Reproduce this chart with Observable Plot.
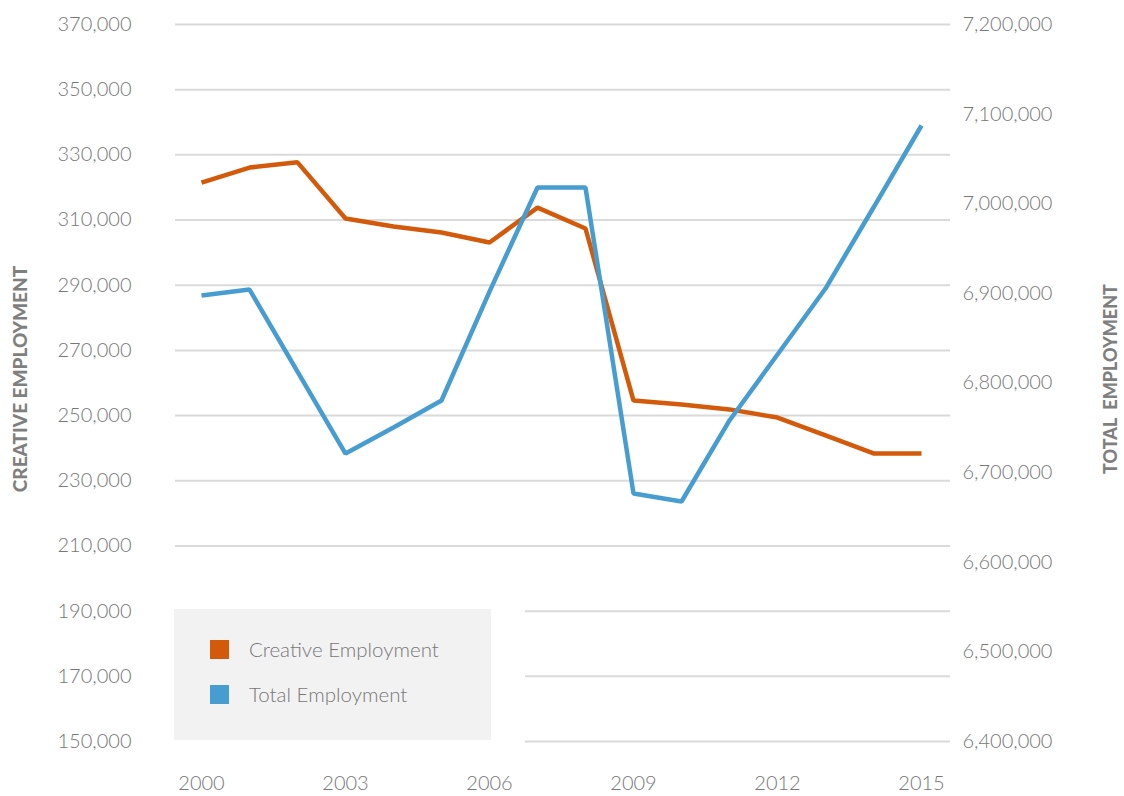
<!DOCTYPE html>
<html>
<head>
<meta charset="utf-8">
<script src="https://cdn.jsdelivr.net/npm/d3@7"></script>
<script src="https://cdn.jsdelivr.net/npm/@observablehq/plot@0.6"></script>
<style>
  html, body { margin: 0; padding: 0; background: #ffffff; }
  #wrap { position: relative; width: 1124px; height: 796px; font-family: Lato, "Open Sans", sans-serif; }
  #mask { position: absolute; left: 170px; top: 598px; width: 355px; height: 152px; background: #ffffff; }
  #legend { position: absolute; left: 174px; top: 609px; width: 317px; height: 131px; background: #f2f2f2; }
  .item { position: absolute; left: 36px; display: flex; align-items: center; font-size: 20.5px; font-weight: 300; color: #777777; }
  .sw { width: 19px; height: 19px; margin-right: 20px; }
</style>
</head>
<body>
<div id="wrap"></div>
<script>
const years = [2000, 2001, 2002, 2003, 2004, 2005, 2006, 2007, 2008, 2009, 2010, 2011, 2012, 2013, 2014, 2015];
const creative = [321500, 326100, 327700, 310500, 308000, 306200, 303100, 313800, 307400, 254600, 253400, 251900, 249400, 243900, 238400, 238400];
const total = [6897600, 6904300, 6812800, 6721300, 6750300, 6780500, 6902000, 7018100, 7018100, 6676700, 6667800, 6758200, 6831800, 6905400, 6995800, 7087300];
const leftTicks = [150000, 170000, 190000, 210000, 230000, 250000, 270000, 290000, 310000, 330000, 350000, 370000];
const rightTicks = [6400000, 6500000, 6600000, 6700000, 6800000, 6900000, 7000000, 7100000, 7200000];
const xTicks = [2000, 2003, 2006, 2009, 2012, 2015];
const seriesNames = ["Creative Employment", "Total Employment"];
const seriesColors = ["#d35a0a", "#479dd0"];

const leftDomain = [150000, 370000];
const rightDomain = [6400000, 7200000];
const toLeft = d3.scaleLinear().domain(rightDomain).range(leftDomain);
const fmt = d3.format(",");

const creativeData = years.map((y, i) => ({year: y, value: creative[i]}));
const totalData = years.map((y, i) => ({year: y, value: toLeft(total[i])}));

const chart = Plot.plot({
  width: 1124,
  height: 796,
  marginLeft: 175,
  marginRight: 174,
  marginTop: 24,
  marginBottom: 55,
  style: {fontFamily: "Lato, 'Open Sans', sans-serif", fontSize: "20px", color: "#777777", background: "transparent"},
  x: {domain: [2000, 2015], range: [201, 921]},
  y: {domain: leftDomain, range: [741, 24]},
  marks: [
    Plot.ruleY(leftTicks, {stroke: "#dadada", strokeWidth: 2}),
    Plot.axisY(leftTicks, {anchor: "left", tickSize: 0, tickPadding: 44, tickFormat: fmt, label: null, fontWeight: 300, fill: "#777777"}),
    Plot.axisY(rightTicks.map(toLeft), {anchor: "right", tickSize: 0, tickPadding: 12, tickFormat: d => fmt(Math.round(toLeft.invert(d))), label: null, fontWeight: 300, fill: "#777777", textAnchor: "start"}),
    Plot.axisX(xTicks, {anchor: "bottom", tickSize: 0, tickPadding: 34, tickFormat: d => String(d), label: null, fontWeight: 300, fill: "#777777"}),
    Plot.line(creativeData, {x: "year", y: "value", stroke: seriesColors[0], strokeWidth: 4.5, strokeLinejoin: "miter", strokeLinecap: "butt"}),
    Plot.line(totalData, {x: "year", y: "value", stroke: seriesColors[1], strokeWidth: 4.5, strokeLinejoin: "miter", strokeLinecap: "butt"}),
    Plot.text(["CREATIVE EMPLOYMENT"], {frameAnchor: "left", textAnchor: "middle", lineAnchor: "middle", dx: -155, dy: -4, rotate: -90, fontWeight: 900, fontSize: 19, fill: "#7f7f7f", letterSpacing: 1.2}),
    Plot.text(["TOTAL  EMPLOYMENT"], {frameAnchor: "right", textAnchor: "middle", lineAnchor: "middle", dx: 161, dy: -4, rotate: -90, fontWeight: 900, fontSize: 18, fill: "#7f7f7f", letterSpacing: 1.4, style: "white-space: pre"})
  ]
});

const wrap = document.getElementById("wrap");
wrap.appendChild(chart);

const mask = document.createElement("div");
mask.id = "mask";
wrap.appendChild(mask);
const legend = document.createElement("div");
legend.id = "legend";
seriesNames.forEach((name, i) => {
  const item = document.createElement("div");
  item.className = "item";
  item.style.top = (i === 0 ? 28 : 73) + "px";
  const sw = document.createElement("div");
  sw.className = "sw";
  sw.style.background = seriesColors[i];
  const label = document.createElement("span");
  label.textContent = name;
  item.appendChild(sw);
  item.appendChild(label);
  legend.appendChild(item);
});
wrap.appendChild(legend);
</script>
</body>
</html>
